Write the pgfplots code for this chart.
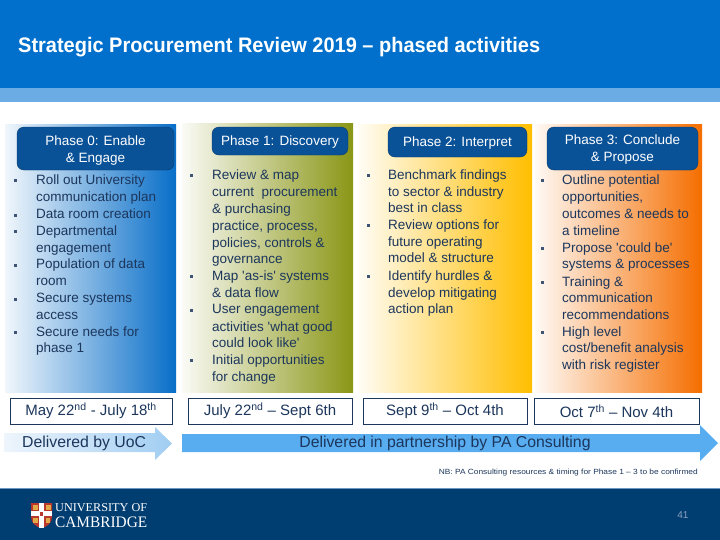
\documentclass[border=0pt]{standalone}
\usepackage{pgfplots}
\pgfplotsset{compat=1.18}
\usepackage{fontspec}
\setmainfont{Liberation Sans}
\newfontfamily\serif{Liberation Serif}
\definecolor{topblue}{RGB}{0,112,204}
\definecolor{lightband}{RGB}{108,172,228}
\definecolor{hdr}{RGB}{10,82,152}
\definecolor{txt}{RGB}{28,54,92}
\definecolor{c0}{RGB}{8,110,200}
\definecolor{c1}{RGB}{138,150,22}
\definecolor{c2}{RGB}{255,190,0}
\definecolor{c3}{RGB}{245,110,0}
\definecolor{navy}{RGB}{0,62,114}
\definecolor{arr}{RGB}{88,172,240}
\definecolor{pg}{RGB}{140,160,190}
\definecolor{a1l}{RGB}{238,245,252}
\definecolor{a1r}{RGB}{160,205,242}
\definecolor{bline}{RGB}{110,150,195}
\definecolor{shred}{RGB}{185,55,45}
\definecolor{shgold}{RGB}{225,170,70}
\newcommand{\body}{\fontsize{13.5bp}{16bp}\selectfont}
\newcommand{\T}[3]{\node[anchor=base west,inner sep=0pt,text=txt,font=\body,yshift=-4.5bp] at (axis cs:#1,#2) {#3};}
\newcommand{\B}[2]{\fill[txt!85] ([xshift=-1.5bp,yshift=-2.3bp]axis cs:#1,#2) rectangle ([xshift=1.5bp,yshift=0.7bp]axis cs:#1,#2);}
\newcommand{\q}{\textquotesingle}
\begin{document}
\begin{tikzpicture}
\path[use as bounding box] (0,0) rectangle (720bp,540bp);
\begin{axis}[at={(0,0)}, anchor=south west, width=720bp, height=540bp, scale only axis,
  xmin=0, xmax=720, ymin=0, ymax=540, y dir=reverse, hide axis, clip=false]
% top bands
\addplot[draw=none, fill=topblue] coordinates {(0,0) (720,0) (720,88) (0,88)} --cycle;
\addplot[draw=none, fill=lightband] coordinates {(0,88) (720,88) (720,102) (0,102)} --cycle;
\node[anchor=west, text=white, inner sep=0pt, font=\bfseries\fontsize{21bp}{24bp}\selectfont] at (axis cs:18,47) {\resizebox{522bp}{\height}{Strategic Procurement Review 2019 – phased activities}};
% columns
\shade[left color=c0!6, right color=c0] (axis cs:5,124) rectangle (axis cs:176,392);
\shade[left color=c1!4, right color=c1] (axis cs:182,123) rectangle (axis cs:353,392);
\shade[left color=c2!4, right color=c2] (axis cs:358,124) rectangle (axis cs:532,392);
\shade[left color=c3!4, right color=c3] (axis cs:535,124) rectangle (axis cs:702,392);
% headers
\draw[fill=hdr, draw=hdr!70!black, rounded corners=7bp] (axis cs:17,127) rectangle (axis cs:174,170);
\draw[fill=hdr, draw=hdr!70!black, rounded corners=7bp] (axis cs:212,127) rectangle (axis cs:348,155);
\draw[fill=hdr, draw=hdr!70!black, rounded corners=7bp] (axis cs:388,127) rectangle (axis cs:527,157);
\draw[fill=hdr, draw=hdr!70!black, rounded corners=7bp] (axis cs:547,127) rectangle (axis cs:698,170);
\node[text=white, font=\body, inner sep=0pt, yshift=-4.5bp, anchor=base] at (axis cs:95.5,140.5) {Phase 0: Enable};
\node[text=white, font=\body, inner sep=0pt, yshift=-4.5bp, anchor=base] at (axis cs:95.5,157.5) {\& Engage};
\node[text=white, font=\body, inner sep=0pt, yshift=-4.5bp, anchor=base] at (axis cs:280,141) {Phase 1: Discovery};
\node[text=white, font=\body, inner sep=0pt, yshift=-4.5bp, anchor=base] at (axis cs:457.5,142) {Phase 2: Interpret};
\node[text=white, font=\body, inner sep=0pt, yshift=-4.5bp, anchor=base] at (axis cs:622.5,140) {Phase 3: Conclude};
\node[text=white, font=\body, inner sep=0pt, yshift=-4.5bp, anchor=base] at (axis cs:622.5,157) {\& Propose};
% column 0
\B{15}{180}\T{36}{180}{Roll out University}
\T{36}{196.7}{communication plan}
\B{15}{214.3}\T{36}{214.3}{Data room creation}
\B{15}{231}\T{36}{231}{Departmental}
\T{36}{247.7}{engagement}
\B{15}{264.3}\T{36}{264.3}{Population of data}
\T{36}{281}{room}
\B{15}{298.3}\T{36}{298.3}{Secure systems}
\T{36}{315}{access}
\B{15}{331.7}\T{36}{331.7}{Secure needs for}
\T{36}{348.3}{phase 1}
% column 1
\B{191}{175}\T{212}{175}{Review \& map}
\T{212}{191.7}{current\ \ procurement}
\T{212}{209.3}{\& purchasing}
\T{212}{226}{practice, process,}
\T{212}{242.7}{policies, controls \&}
\T{212}{259.3}{governance}
\B{191}{276}\T{212}{276}{Map \q as-is\q\ systems}
\T{212}{292.7}{\& data flow}
\B{191}{309.3}\T{212}{309.3}{User engagement}
\T{212}{326.7}{activities \q what good}
\T{212}{343.3}{could look like\q}
\B{191}{360}\T{212}{360}{Initial opportunities}
\T{212}{376.7}{for change}
% column 2
\B{368}{175}\T{388}{175}{Benchmark findings}
\T{388}{191.7}{to sector \& industry}
\T{388}{208.3}{best in class}
\B{368}{225}\T{388}{225}{Review options for}
\T{388}{241.7}{future operating}
\T{388}{258.3}{model \& structure}
\B{368}{276}\T{388}{276}{Identify hurdles \&}
\T{388}{292.7}{develop mitigating}
\T{388}{309.3}{action plan}
% column 3
\B{542}{180}\T{562}{180}{Outline potential}
\T{562}{196.7}{opportunities,}
\T{562}{214.3}{outcomes \& needs to}
\T{562}{231}{a timeline}
\B{542}{247.7}\T{562}{247.7}{Propose \q could be\q}
\T{562}{264.3}{systems \& processes}
\B{542}{281.7}\T{562}{281.7}{Training \&}
\T{562}{298.3}{communication}
\T{562}{315}{recommendations}
\B{542}{331.7}\T{562}{331.7}{High level}
\T{562}{348.3}{cost/benefit analysis}
\T{562}{365}{with risk register}
% date boxes
\addplot[draw=txt, line width=0.9bp, fill=white] coordinates {(10,398) (172,398) (172,424) (10,424)} --cycle;
\addplot[draw=txt, line width=0.9bp, fill=white] coordinates {(188,398) (352,398) (352,424) (188,424)} --cycle;
\addplot[draw=txt, line width=0.9bp, fill=white] coordinates {(363,398) (527,398) (527,424) (363,424)} --cycle;
\addplot[draw=txt, line width=0.9bp, fill=white] coordinates {(534,398) (699,398) (699,424) (534,424)} --cycle;
\node[text=txt, font=\fontsize{15bp}{18bp}\selectfont, inner sep=0pt] at (axis cs:91,411) {May 22\textsuperscript{nd} - July 18\textsuperscript{th}};
\node[text=txt, font=\fontsize{15bp}{18bp}\selectfont, inner sep=0pt] at (axis cs:270,411) {July 22\textsuperscript{nd} – Sept 6th};
\node[text=txt, font=\fontsize{15bp}{18bp}\selectfont, inner sep=0pt] at (axis cs:445,411) {Sept 9\textsuperscript{th} – Oct 4th};
\node[text=txt, font=\fontsize{15bp}{18bp}\selectfont, inner sep=0pt] at (axis cs:616.5,411) {Oct 7\textsuperscript{th} – Nov 4th};
% arrows
\shade[left color=a1l, right color=a1r]
  (axis cs:4,433) -- (axis cs:155,433) -- (axis cs:155,427) -- (axis cs:172,443.5) -- (axis cs:155,460) -- (axis cs:155,452) -- (axis cs:4,452) -- cycle;
\fill[arr] (axis cs:182,434) -- (axis cs:700,434) -- (axis cs:700,425) -- (axis cs:718,443) -- (axis cs:700,461) -- (axis cs:700,452) -- (axis cs:182,452) -- cycle;
\node[anchor=west, text=txt, font=\fontsize{15.8bp}{18bp}\selectfont, inner sep=0pt] at (axis cs:22,443.5) {Delivered by UoC};
\node[text=txt, font=\fontsize{15.8bp}{18bp}\selectfont, inner sep=0pt] at (axis cs:445,443) {Delivered in partnership by PA Consulting};
% note
\node[anchor=east, text=txt, inner sep=0pt, font=\fontsize{7.5bp}{8bp}\selectfont] at (axis cs:698,473) {\resizebox{259bp}{\height}{NB: PA Consulting resources \& timing for Phase 1 – 3 to be confirmed}};
% bottom band
\addplot[draw=none, fill=navy] coordinates {(0,488) (720,488) (720,540) (0,540)} --cycle;
\draw[line width=1bp, bline] (axis cs:0,488) -- (axis cs:720,488);
% logo shield
\fill[shred] (axis cs:31,503) -- (axis cs:52,503) -- (axis cs:52,517) .. controls (axis cs:52,523) and (axis cs:47,527) .. (axis cs:41.5,528) .. controls (axis cs:36,527) and (axis cs:31,523) .. (axis cs:31,517) -- cycle;
\fill[white] (axis cs:39,503) rectangle (axis cs:44,528);
\fill[white] (axis cs:31,511) rectangle (axis cs:52,516);
\fill[shgold] (axis cs:32.5,504.5) rectangle (axis cs:37.5,509.5);
\fill[shgold] (axis cs:45.5,504.5) rectangle (axis cs:50.5,509.5);
\fill[shgold] (axis cs:33,518) rectangle (axis cs:37.5,523);
\fill[shgold] (axis cs:45.5,518) rectangle (axis cs:50,523);
\fill[shred] (axis cs:40,511.5) rectangle (axis cs:43,515.5);
\node[anchor=west, text=white, inner sep=0pt, font=\serif\fontsize{12bp}{12bp}\selectfont] at (axis cs:55,508) {\resizebox{92bp}{\height}{UNIVERSITY OF}};
\node[anchor=west, text=white, inner sep=0pt, font=\serif\fontsize{16bp}{16bp}\selectfont] at (axis cs:55,522) {\resizebox{92bp}{\height}{CAMBRIDGE}};
\node[text=pg, inner sep=0pt, font=\fontsize{10bp}{10bp}\selectfont] at (axis cs:683,515) {41};
\end{axis}
\end{tikzpicture}
\end{document}
